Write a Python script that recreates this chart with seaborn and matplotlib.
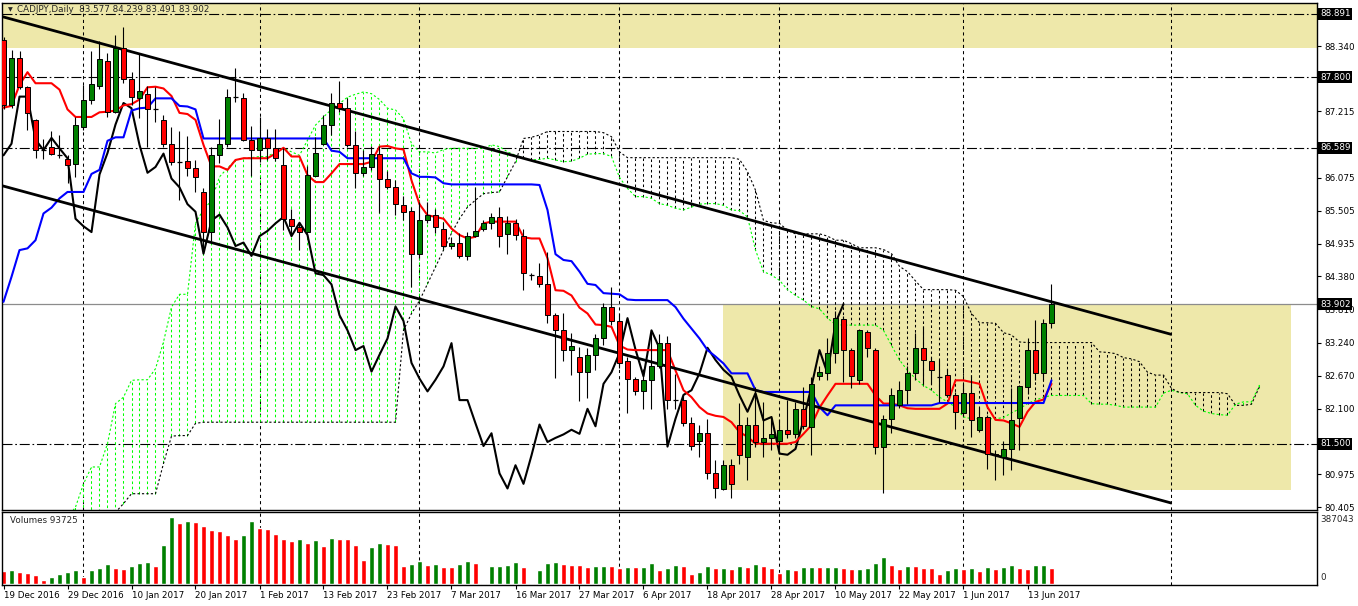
import numpy as np
import pandas as pd
import matplotlib
matplotlib.use("Agg")
import matplotlib.pyplot as plt
import seaborn as sns
from matplotlib.patches import Rectangle

# ---- CADJPY daily candles ----
open_ = [88.45, 87.32, 88.14, 87.63, 87.07, 86.55, 86.60, 86.47, 86.40, 86.31,
         86.95, 87.41, 87.65, 88.09, 87.21, 88.31, 87.77, 87.44, 87.52, 87.25,
         87.07, 86.65, 86.35, 86.37, 86.25, 85.83, 85.14, 86.46, 86.66, 87.47,
         87.44, 86.73, 86.55, 86.76, 86.58, 86.30, 85.37, 85.23, 85.14, 86.11,
         86.65, 86.99, 87.36, 87.27, 86.63, 86.15, 86.26, 86.49, 86.06, 85.91,
         85.60, 85.50, 84.77, 85.34, 85.44, 85.19, 84.90, 84.96, 84.73, 85.07,
         85.19, 85.29, 85.40, 85.10, 85.30, 85.08, 84.40, 84.39, 84.24, 83.71,
         83.45, 83.11, 83.00, 82.74, 83.02, 83.31, 83.86, 83.61, 82.92, 82.62,
         82.40, 82.59, 82.83, 83.23, 82.25, 82.25, 81.85, 81.55, 81.68, 80.99,
         80.72, 81.13, 81.82, 81.28, 81.83, 81.53, 81.59, 81.55, 81.74, 81.67,
         82.10, 81.79, 82.66, 82.71, 83.06, 83.65, 83.12, 82.59, 83.42, 83.12,
         81.45, 81.93, 82.16, 82.42, 82.71, 83.15, 82.92, 82.65, 82.68, 82.33,
         82.03, 82.37, 81.73, 81.96, 81.33, 81.27, 81.41, 81.94, 82.48, 83.11,
         82.71, 83.577]
high = [88.50, 88.28, 88.25, 87.65, 87.08, 86.74, 86.88, 86.81, 86.46, 87.12,
        87.67, 88.26, 88.43, 88.22, 88.53, 88.67, 87.90, 88.21, 87.65, 87.64,
        87.15, 86.95, 86.87, 86.79, 86.38, 85.90, 86.61, 87.09, 87.60, 87.97,
        87.54, 86.96, 87.12, 86.92, 86.91, 86.58, 85.53, 85.32, 86.28, 86.78,
        87.16, 87.54, 87.74, 87.44, 86.88, 86.55, 86.62, 86.62, 86.19, 86.03,
        85.76, 85.57, 85.66, 85.66, 85.54, 85.32, 85.06, 85.12, 85.14, 85.92,
        85.35, 85.46, 85.57, 85.41, 85.37, 85.20, 84.44, 84.61, 84.80, 83.74,
        83.74, 83.41, 83.16, 83.14, 83.39, 83.92, 84.20, 83.74, 83.00, 82.65,
        82.79, 83.45, 83.39, 83.36, 82.70, 82.33, 81.96, 81.83, 81.93, 81.22,
        81.22, 81.24, 82.20, 81.96, 82.48, 82.22, 81.96, 81.93, 82.25, 82.22,
        82.47, 82.64, 82.84, 83.31, 83.78, 83.70, 83.15, 83.48, 83.46, 83.15,
        81.99, 82.45, 82.58, 82.84, 83.41, 83.53, 83.00, 82.94, 82.79, 82.39,
        82.53, 82.68, 82.13, 82.00, 81.40, 81.55, 82.45, 82.51, 83.31, 83.62,
        83.64, 84.239]
low = [87.25, 87.28, 87.60, 86.89, 86.41, 86.40, 86.47, 86.41, 85.98, 86.09,
       86.90, 87.35, 87.60, 87.12, 87.18, 87.70, 87.32, 87.10, 86.61, 87.04,
       86.60, 86.30, 85.69, 86.10, 85.83, 84.77, 84.99, 86.32, 86.60, 87.38,
       86.70, 86.10, 86.35, 86.38, 86.36, 85.17, 85.07, 84.84, 85.12, 86.10,
       86.64, 86.81, 87.20, 86.60, 85.89, 86.10, 86.20, 85.47, 85.88, 85.43,
       85.34, 84.19, 84.70, 85.30, 85.12, 84.85, 84.85, 84.69, 84.66, 85.05,
       85.15, 85.20, 84.89, 84.77, 85.00, 84.15, 84.32, 84.20, 83.57, 82.63,
       82.93, 82.69, 82.24, 82.29, 82.76, 83.20, 83.55, 82.80, 82.02, 82.33,
       82.10, 82.10, 82.80, 82.10, 82.10, 81.80, 81.40, 81.27, 80.90, 80.57,
       80.70, 80.57, 81.15, 80.87, 81.44, 81.27, 81.39, 81.39, 81.60, 81.60,
       81.75, 81.30, 82.60, 82.60, 82.88, 82.57, 82.45, 82.53, 83.00, 81.33,
       80.65, 81.68, 82.11, 82.19, 82.59, 82.53, 82.53, 82.22, 82.30, 81.76,
       81.98, 81.62, 81.70, 81.07, 80.87, 80.96, 81.04, 81.39, 82.36, 82.60,
       82.60, 83.491]
close = [87.32, 88.14, 87.64, 87.18, 86.55, 86.55, 86.48, 86.47, 86.29, 86.99,
         87.42, 87.68, 88.11, 87.21, 88.31, 87.77, 87.47, 87.56, 87.25, 87.25,
         86.65, 86.35, 86.35, 86.25, 86.08, 85.14, 86.46, 86.66, 87.47, 87.47,
         86.73, 86.55, 86.76, 86.58, 86.41, 85.37, 85.24, 85.14, 86.13, 86.50,
         86.99, 87.36, 87.27, 86.64, 86.16, 86.26, 86.49, 86.06, 85.91, 85.62,
         85.49, 84.77, 85.34, 85.44, 85.22, 84.90, 84.96, 84.73, 85.07, 85.16,
         85.29, 85.40, 85.07, 85.30, 85.09, 84.43, 84.40, 84.24, 83.71, 83.45,
         83.11, 83.18, 82.74, 83.03, 83.31, 83.86, 83.61, 82.89, 82.62, 82.40,
         82.60, 82.83, 83.23, 82.25, 82.25, 81.85, 81.46, 81.68, 80.99, 80.73,
         81.13, 80.81, 81.30, 81.83, 81.53, 81.60, 81.66, 81.74, 81.67, 82.10,
         81.80, 82.53, 82.73, 83.06, 83.66, 83.12, 82.66, 83.45, 83.14, 81.45,
         81.93, 82.34, 82.42, 82.71, 83.15, 82.94, 82.77, 82.65, 82.33, 82.05,
         82.37, 81.90, 81.96, 81.33, 81.31, 81.41, 81.91, 82.49, 83.11, 82.71,
         83.58, 83.902]
volume = [74700, 80500, 70900, 63200, 51700, 23000, 40200, 57500, 70900, 80500,
          40200, 80500, 92000, 115000, 92000, 86200, 103500, 120700, 126500, 103500,
          224200, 387043, 350600, 362100, 356400, 333400, 310400, 304600, 281700, 258700,
          281700, 362100, 321900, 316100, 287400, 258700, 247200, 258700, 235700, 252900,
          218400, 264400, 258700, 258000, 224200, 138000, 212700, 235700, 229900, 226100,
          103500, 115000, 132200, 109200, 115000, 97700, 97500, 115000, 132200, 120700,
          3800, 103500, 103600, 109200, 126500, 97700, 3800, 80500, 120700, 126500,
          115000, 109200, 109000, 97700, 103500, 103600, 103400, 92000, 97700, 97600,
          97800, 120700, 80500, 92000, 109200, 103500, 57500, 69000, 103500, 92000,
          92100, 86200, 103500, 97700, 115000, 103500, 92000, 63200, 86200, 80500,
          97700, 97800, 97600, 97700, 97800, 92000, 86200, 86300, 92000, 120700,
          155200, 109200, 86200, 103500, 103400, 92000, 91900, 57500, 80500, 92000,
          86200, 92000, 74700, 97700, 86200, 97700, 109200, 92000, 86200, 109200,
          109300, 93725]

# ---- Ichimoku lines ----
tenkan = [87.28, 87.31, 87.67, 87.89, 87.70, 87.70, 87.70, 87.59, 87.25, 87.12,
          87.12, 87.12, 87.20, 87.21, 87.23, 87.32, 87.34, 87.42, 87.63, 87.64,
          87.61, 87.48, 87.19, 87.17, 87.07, 86.64, 86.27, 86.27, 86.21, 86.38,
          86.41, 86.41, 86.41, 86.41, 86.49, 86.59, 86.44, 86.44, 86.12, 86.00,
          86.00, 86.15, 86.31, 86.31, 86.31, 86.31, 86.35, 86.61, 86.62, 86.58,
          86.56, 86.03, 85.62, 85.43, 85.40, 85.37, 85.20, 85.09, 85.03, 85.06,
          85.29, 85.32, 85.32, 85.32, 85.32, 85.05, 85.03, 85.03, 84.69, 84.14,
          84.13, 84.05, 83.84, 83.74, 83.55, 83.54, 83.51, 83.19, 83.12, 83.11,
          83.11, 83.11, 83.11, 83.11, 82.76, 82.42, 82.30, 82.13, 82.02, 81.98,
          81.96, 81.87, 81.70, 81.62, 81.50, 81.50, 81.50, 81.50, 81.50, 81.53,
          81.67, 81.82, 82.12, 82.33, 82.53, 82.53, 82.53, 82.53, 82.53, 82.33,
          82.19, 82.19, 82.16, 82.11, 82.10, 82.10, 82.10, 82.10, 82.19, 82.59,
          82.59, 82.56, 82.53, 82.13, 81.91, 81.90, 81.85, 81.79, 82.05, 82.22,
          82.26, 82.53]
kijun = [83.94, 84.37, 84.83, 84.86, 85.00, 85.46, 85.56, 85.72, 85.83, 85.83,
         85.83, 86.14, 86.21, 86.71, 86.77, 86.77, 87.23, 87.27, 87.28, 87.44,
         87.44, 87.44, 87.31, 87.30, 87.25, 86.75, 86.75, 86.75, 86.75, 86.75,
         86.75, 86.75, 86.75, 86.75, 86.75, 86.75, 86.75, 86.75, 86.75, 86.75,
         86.75, 86.54, 86.52, 86.41, 86.41, 86.41, 86.41, 86.41, 86.41, 86.41,
         86.41, 86.15, 86.09, 86.09, 86.08, 85.98, 85.96, 85.96, 85.96, 85.96,
         85.96, 85.96, 85.96, 85.96, 85.96, 85.96, 85.96, 85.95, 85.52, 84.76,
         84.66, 84.64, 84.46, 84.25, 84.23, 84.09, 84.08, 84.07, 83.98, 83.97,
         83.97, 83.97, 83.97, 83.97, 83.85, 83.65, 83.48, 83.31, 83.11, 83.00,
         82.88, 82.71, 82.71, 82.71, 82.42, 82.39, 82.39, 82.39, 82.39, 82.39,
         82.39, 82.39, 82.13, 81.99, 82.16, 82.16, 82.16, 82.16, 82.16, 82.16,
         82.16, 82.16, 82.16, 82.16, 82.16, 82.16, 82.16, 82.20, 82.20, 82.20,
         82.20, 82.20, 82.20, 82.20, 82.20, 82.20, 82.20, 82.20, 82.20, 82.20,
         82.20, 82.59]
# senkou spans run 26 bars past the last candle
span_a = [79.30, 79.42, 79.50, 79.63, 79.71, 79.80, 79.92, 80.05, 80.22, 80.41,
          80.81, 81.10, 81.10, 81.50, 82.19, 82.30, 82.59, 82.60, 82.60, 82.79,
          83.25, 83.85, 84.07, 84.07, 85.29, 85.53, 85.68, 86.09, 86.24, 86.38,
          86.41, 86.42, 86.44, 86.44, 86.52, 86.58, 86.52, 86.46, 86.72, 86.98,
          87.12, 87.25, 87.35, 87.46, 87.51, 87.55, 87.52, 87.42, 87.27, 87.24,
          87.09, 86.66, 86.52, 86.52, 86.50, 86.56, 86.58, 86.58, 86.58, 86.58,
          86.58, 86.64, 86.61, 86.52, 86.46, 86.41, 86.38, 86.39, 86.41, 86.38,
          86.35, 86.36, 86.41, 86.48, 86.49, 86.49, 86.44, 86.08, 85.89, 85.75,
          85.75, 85.72, 85.63, 85.60, 85.55, 85.52, 85.57, 85.62, 85.63, 85.63,
          85.60, 85.52, 85.51, 85.40, 84.83, 84.46, 84.40, 84.31, 84.15, 84.05,
          83.97, 83.86, 83.82, 83.66, 83.55, 83.54, 83.54, 83.54, 83.54, 83.54,
          83.45, 83.19, 82.94, 82.76, 82.62, 82.50, 82.42, 82.30, 82.22, 82.13,
          81.96, 81.93, 81.93, 81.93, 81.93, 81.95, 82.03, 82.10, 82.19, 82.25,
          82.30, 82.33, 82.33, 82.33, 82.33, 82.33, 82.19, 82.18, 82.18, 82.16,
          82.13, 82.13, 82.13, 82.13, 82.13, 82.37, 82.42, 82.38, 82.36, 82.16,
          82.06, 82.02, 82.00, 81.99, 82.18, 82.22, 82.22, 82.51]
span_b = [79.60, 79.65, 79.70, 79.72, 79.80, 79.85, 79.88, 79.90, 79.95, 80.00,
          80.05, 80.10, 80.15, 80.22, 80.32, 80.47, 80.64, 80.64, 80.64, 80.64,
          81.16, 81.63, 81.64, 81.64, 81.85, 81.87, 81.87, 81.87, 81.87, 81.87,
          81.87, 81.87, 81.87, 81.87, 81.87, 81.87, 81.87, 81.87, 81.87, 81.87,
          81.87, 81.87, 81.87, 81.87, 81.87, 81.87, 81.87, 81.87, 81.87, 81.87,
          83.45, 83.74, 83.96, 84.25, 84.54, 84.83, 85.12, 85.37, 85.57, 85.69,
          85.80, 85.82, 85.83, 86.09, 86.35, 86.75, 86.77, 86.81, 86.87, 86.87,
          86.87, 86.87, 86.87, 86.87, 86.87, 86.85, 86.78, 86.52, 86.42, 86.42,
          86.42, 86.42, 86.42, 86.42, 86.42, 86.42, 86.42, 86.42, 86.42, 86.42,
          86.42, 86.42, 86.39, 86.18, 85.86, 85.34, 85.30, 85.29, 85.17, 85.11,
          85.11, 85.11, 85.11, 85.07, 85.00, 85.00, 84.94, 84.87, 84.87, 84.87,
          84.84, 84.77, 84.55, 84.46, 84.30, 84.15, 84.15, 84.15, 84.15, 84.14,
          84.03, 83.74, 83.58, 83.58, 83.57, 83.41, 83.37, 83.25, 83.24, 83.24,
          83.24, 83.24, 83.24, 83.24, 83.24, 83.24, 83.24, 83.08, 83.07, 83.05,
          82.98, 82.96, 82.91, 82.73, 82.68, 82.68, 82.45, 82.38, 82.38, 82.38,
          82.38, 82.38, 82.38, 82.36, 82.16, 82.16, 82.18, 82.48]

# ---- drawn objects ----
channel_upper = [(-1, 88.877), (146, 83.38)]
channel_lower = [(-1, 85.968), (146, 80.479)]
hlines_dashdot = [88.891, 87.800, 86.589, 81.500]
bid = 83.902
month_lines = [10, 32, 52, 77, 97, 120, 146]
zone_top = (88.31, 89.5)
zone_box = (90, 161, 80.70, 83.902)

price_ticks = [88.340, 87.215, 86.075, 85.505, 84.935, 84.380, 83.810,
               83.240, 82.670, 82.100, 80.975, 80.405]
date_pos = [0, 8, 16, 24, 32, 40, 48, 56, 64, 72, 80, 88, 96, 104, 112, 120, 128]
date_labels = ["19 Dec 2016", "29 Dec 2016", "10 Jan 2017", "20 Jan 2017", "1 Feb 2017",
               "13 Feb 2017", "23 Feb 2017", "7 Mar 2017", "16 Mar 2017", "27 Mar 2017",
               "6 Apr 2017", "18 Apr 2017", "28 Apr 2017", "10 May 2017", "22 May 2017",
               "1 Jun 2017", "13 Jun 2017"]

sns.set_style("white")
plt.rcParams['font.family'] = ['DejaVu Sans']

o = np.array(open_); h = np.array(high); l = np.array(low); c = np.array(close)
bars = np.arange(len(c))
fut = np.arange(len(span_a))
sa = np.array(span_a); sb = np.array(span_b)

W, H = 1358, 606
fig = plt.figure(figsize=(W / 100, H / 100), dpi=100)
fig.patch.set_facecolor("white")

def box(x0, y0, x1, y1):
    return [x0 / W, 1 - y1 / H, (x1 - x0) / W, (y1 - y0) / H]

ax = fig.add_axes(box(2, 3, 1317, 510))
axv = fig.add_axes(box(2, 512, 1317, 585))
XL = ((2 - 3.5) / 8, (1317 - 3.5) / 8)
TAN = "#eee8aa"
GREEN = "#008000"
LIME = "#00ff00"

# background zones
ax.axhspan(*zone_top, color=TAN, lw=0, zorder=0)
x0, x1, y0, y1 = zone_box
ax.add_patch(Rectangle((x0, y0), x1 - x0, y1 - y0, color=TAN, lw=0, zorder=0))

# grid / drawn lines
for m in month_lines:
    ax.axvline(m, color="black", lw=0.75, ls=(0, (3, 3)), zorder=0.6)
    axv.axvline(m, color="black", lw=0.75, ls=(0, (3, 3)), zorder=0.6)
for p in hlines_dashdot:
    ax.axhline(p, color="black", lw=0.8, ls=(0, (9, 2.5, 1.5, 2.5)), zorder=0.7)
ax.axhline(bid, color="#8c8c8c", lw=0.9, zorder=0.7)

# kumo hatching and spans
lo = np.minimum(sa, sb); hi = np.maximum(sa, sb)
cols = [LIME if a >= b else "black" for a, b in zip(sa, sb)]
ax.vlines(fut, lo, hi, colors=cols, lw=0.75, linestyles=(0, (2.5, 2.5)), zorder=1)
ax.plot(fut, sa, color=LIME, lw=0.8, ls=(0, (2, 2)), zorder=1.5)
ax.plot(fut, sb, color="black", lw=0.8, ls=(0, (2, 2)), zorder=1.5)

# chikou, tenkan, kijun
sns.lineplot(x=bars[26:] - 26, y=c[26:], color="black", lw=1.5, ax=ax,
             estimator=None, zorder=3)
sns.lineplot(x=bars, y=tenkan, color="#ff0000", lw=1.5, ax=ax, estimator=None, zorder=3)
sns.lineplot(x=bars, y=kijun, color="#0000ff", lw=1.5, ax=ax, estimator=None, zorder=3)

# channel
for line in (channel_upper, channel_lower):
    xs, ys = zip(*line)
    ax.plot(xs, ys, color="black", lw=2.0, zorder=3.5, solid_capstyle="butt")

# candles
up = c > o
dn = c < o
dj = c == o
ax.vlines(bars, l, h, color="black", lw=0.8, zorder=4)
ax.bar(bars[up], (c - o)[up], bottom=o[up], width=0.62, color=GREEN,
       edgecolor="black", lw=0.7, zorder=5)
ax.bar(bars[dn], (o - c)[dn], bottom=c[dn], width=0.62, color="#ff0000",
       edgecolor="black", lw=0.7, zorder=5)
ax.hlines(c[dj], bars[dj] - 0.31, bars[dj] + 0.31, color="black", lw=0.9, zorder=5)

ax.set_xlim(*XL)
ax.set_ylim(80.360, 89.080)
ax.set_xticks([])
ax.set_xlabel(""); ax.set_ylabel("")
ax.yaxis.tick_right()
ax.set_yticks(price_ticks)
ax.set_yticklabels([f"{t:.3f}" for t in price_ticks])
ax.tick_params(axis="y", length=3, width=0.8, pad=2, labelsize=6.3, colors="black")
for s in ax.spines.values():
    s.set_color("black"); s.set_linewidth(1.0)

for p in hlines_dashdot + [bid]:
    ax.text(1.0 + 3 / 1315, p, f"{p:.3f}", transform=ax.get_yaxis_transform(),
            fontsize=6.3, color="white", va="center", ha="left", zorder=10,
            clip_on=False, bbox=dict(boxstyle="square,pad=0.18", fc="black", ec="none"))

fig.text(8 / W, 1 - 10 / H, "\u25BC", fontsize=4.5, va="center", ha="left")
fig.text(17 / W, 1 - 10 / H, "CADJPY,Daily  83.577 84.239 83.491 83.902",
         fontsize=6.3, va="center", ha="left")

# volumes
vol = np.array(volume)
prev = np.concatenate([[vol[0]], vol[:-1]])
vdf = pd.DataFrame({"bar": bars, "vol": vol,
                    "dir": np.where(vol > prev, "up", "down")})
sns.barplot(data=vdf, x="bar", y="vol", hue="dir", native_scale=True, dodge=False,
            palette={"up": GREEN, "down": "#ff0000"}, saturation=1, width=0.7,
            errorbar=None, legend=False, ax=axv, zorder=2)
axv.set_xlim(*XL)
axv.set_ylim(-5500, 414000)
axv.set_xlabel(""); axv.set_ylabel("")
axv.set_yticks([])
axv.set_xticks(date_pos)
axv.set_xticklabels(date_labels)
for lbl in axv.get_xticklabels():
    lbl.set_ha("left")
axv.tick_params(axis="x", length=3, width=0.8, pad=1.5, labelsize=6.3, colors="black",
                bottom=True)
for s in axv.spines.values():
    s.set_color("black"); s.set_linewidth(1.0)
axv.text(8 / 1315, 0.88, f"Volumes {volume[-1]}", transform=axv.transAxes,
         fontsize=6.3, va="center", ha="left")
fig.text(1320 / W, 1 - 520 / H, "387043", fontsize=6.3, va="center", ha="left")
fig.text(1320 / W, 1 - 578 / H, "0", fontsize=6.3, va="center", ha="left")

fig.savefig("out.png", dpi=100, facecolor="white")
